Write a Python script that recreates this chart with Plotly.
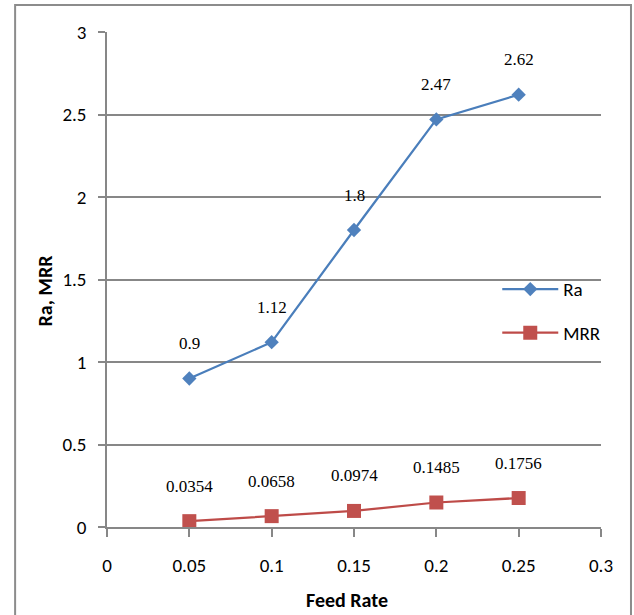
import plotly.graph_objects as go

# Feed rate experiments: surface roughness (Ra) and material removal rate (MRR)
feed_rate = [0.05, 0.10, 0.15, 0.20, 0.25]
ra_values = [0.9, 1.12, 1.8, 2.47, 2.62]
mrr_values = [0.0354, 0.0658, 0.0974, 0.1485, 0.1756]

x_ticks = [0, 0.05, 0.1, 0.15, 0.2, 0.25, 0.3]
x_tick_text = ["0", "0.05", "0.1", "0.15", "0.2", "0.25", "0.3"]
y_ticks = [0, 0.5, 1, 1.5, 2, 2.5, 3]
y_tick_text = ["0", "0.5", "1", "1.5", "2", "2.5", "3"]

SANS = "Carlito, Calibri, Lato, sans-serif"
SERIF = "Liberation Serif, Times New Roman, serif"
GRID = "#878787"

fig = go.Figure()

fig.add_trace(go.Scatter(
    x=feed_rate, y=ra_values, name="Ra", mode="lines+markers",
    line=dict(color="#4A7EBB", width=2.25),
    marker=dict(symbol="diamond", size=11, color="#4F81BD"),
    legendgroup="ra",
))
fig.add_trace(go.Scatter(
    x=feed_rate, y=mrr_values, name="MRR", mode="lines+markers",
    line=dict(color="#BE4B48", width=2.25),
    marker=dict(symbol="square", size=14, color="#C0504D"),
    legendgroup="mrr",
))

# Value labels above each point
for series in (ra_values, mrr_values):
    for xv, yv in zip(feed_rate, series):
        fig.add_annotation(
            x=xv, y=yv, text=str(yv), showarrow=False,
            yshift=35, font=dict(family=SERIF, size=17, color="#000000"),
        )

# Axis titles
fig.add_annotation(
    xref="paper", yref="paper", x=0.486, y=-0.1475, text="<b>Feed Rate</b>",
    xanchor="center", yanchor="middle", showarrow=False,
    font=dict(family=SANS, size=20, color="#000000"),
)
fig.add_annotation(
    xref="paper", yref="paper", x=-0.1255, y=0.478, text="<b>Ra, MRR</b>",
    xanchor="center", yanchor="middle", showarrow=False, textangle=-90,
    font=dict(family=SANS, size=20, color="#000000"),
)

# Chart-area frame
fig.add_shape(
    type="rect", xref="paper", yref="paper",
    x0=-0.186, x1=1.0607, y0=-0.2, y1=1.0545,
    line=dict(color="#8C8C8C", width=2), fillcolor="rgba(0,0,0,0)",
)

fig.update_xaxes(
    range=[0, 0.3], tickvals=x_ticks, ticktext=x_tick_text,
    showgrid=False, zeroline=False,
    showline=True, linecolor=GRID, linewidth=1.5,
    ticks="outside", ticklen=8, tickcolor=GRID, tickwidth=1.5,
    ticklabelstandoff=12,
    tickfont=dict(family=SANS, size=19, color="#000000"),
)
fig.update_yaxes(
    range=[0, 3], tickvals=y_ticks, ticktext=y_tick_text,
    showgrid=True, gridcolor=GRID, gridwidth=1.5, zeroline=False,
    showline=True, linecolor=GRID, linewidth=1.5,
    ticks="outside", ticklen=7, tickcolor=GRID, tickwidth=1.5,
    ticklabelstandoff=8,
    tickfont=dict(family=SANS, size=19, color="#000000"),
)

fig.update_layout(
    width=634, height=615,
    margin=dict(l=107, r=33, t=32, b=88, autoexpand=False),
    plot_bgcolor="#FFFFFF", paper_bgcolor="#FFFFFF",
    showlegend=True,
    legend=dict(
        x=0.79, y=0.436, xanchor="left", yanchor="middle",
        bgcolor="rgba(0,0,0,0)", traceorder="grouped", tracegroupgap=16,
        itemwidth=56,
        font=dict(family=SANS, size=19, color="#000000"),
    ),
)

fig.write_html("out.html")
